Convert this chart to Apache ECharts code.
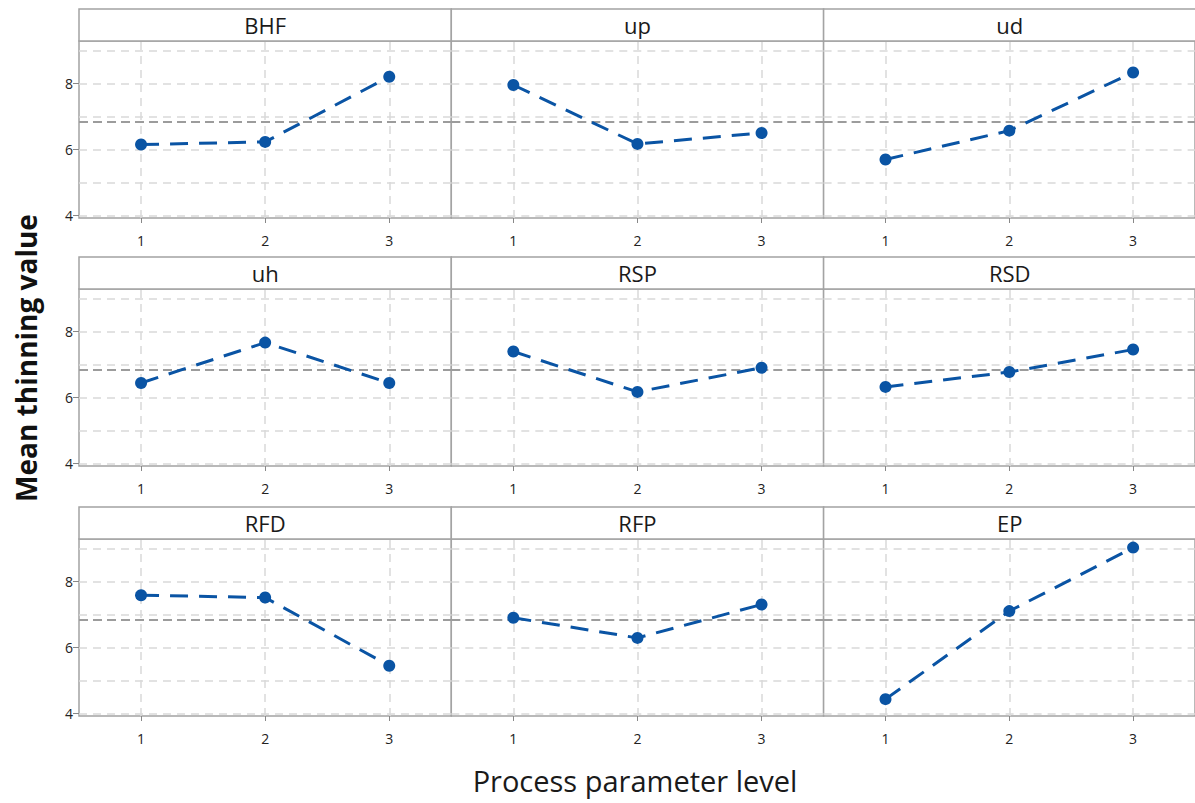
<!DOCTYPE html>
<html>
<head>
<meta charset="utf-8">
<script src="https://cdn.jsdelivr.net/npm/echarts@6/dist/echarts.min.js"></script>
<style>
html,body{margin:0;padding:0;background:#fff;}
#chart{width:1195px;height:803px;}
</style>
</head>
<body>
<div id="chart"></div>
<script>
// ---- data ----
const factors = ['BHF', 'up', 'ud', 'uh', 'RSP', 'RSD', 'RFD', 'RFP', 'EP'];
const levels = ['1', '2', '3'];
const BHF = [6.15, 6.23, 8.20];
const up  = [7.95, 6.17, 6.50];
const ud  = [5.70, 6.57, 8.33];
const uh  = [6.44, 7.66, 6.44];
const RSP = [7.39, 6.17, 6.90];
const RSD = [6.32, 6.77, 7.45];
const RFD = [7.58, 7.51, 5.45];
const RFP = [6.90, 6.29, 7.30];
const EP  = [4.44, 7.10, 9.02];
const yTickLabels = [4, 6, 8];
const yGridValues = [4, 5, 6, 7, 8, 9];
const yTitle = 'Mean thinning value';
const xTitle = 'Process parameter level';

const seriesValues = [BHF, up, ud, uh, RSP, RSD, RFD, RFP, EP];
const allVals = seriesValues.flat();
const grandMean = allVals.reduce((a, b) => a + b, 0) / allVals.length;

// ---- layout ----
const colLeft = 79, colW = 372.3;
const rowPlotTop = [41, 289, 539];
const plotH = 177, headerH = 32;
const yMin = 3.93, yMax = 9.28;
const borderColor = '#a3a3a3';
const gridColor = '#d9d9d9';
const lineColor = '#0a54a4';
const font = 'Open Sans';

const grids = [], xAxes = [], yAxes = [], series = [], graphics = [];

factors.forEach((name, i) => {
  const r = Math.floor(i / 3), c = i % 3;
  const left = colLeft + c * colW;
  const top = rowPlotTop[r];
  grids.push({
    left: left, top: top, width: colW, height: plotH,
    show: true, borderColor: borderColor, borderWidth: 1.5, backgroundColor: '#fff'
  });
  xAxes.push({
    type: 'category', gridIndex: i, data: levels, boundaryGap: true,
    axisLine: { show: false },
    axisTick: { show: true, alignWithLabel: true, length: 5, lineStyle: { color: '#888', width: 1 } },
    axisLabel: { margin: 15, fontSize: 14, color: '#222', fontFamily: font },
    splitLine: { show: false }
  });
  yAxes.push({
    type: 'value', gridIndex: i, min: yMin, max: yMax,
    axisLine: { show: false },
    axisTick: { show: c === 0, customValues: yTickLabels, length: 6, lineStyle: { color: '#888', width: 1 } },
    axisLabel: { show: c === 0, customValues: yTickLabels, margin: 6, fontSize: 14, color: '#222', fontFamily: font },
    splitLine: { show: false }
  });
  const mlData = [];
  levels.forEach(l => mlData.push({ xAxis: l, lineStyle: { color: gridColor, width: 1.5, type: [8, 6] } }));
  yGridValues.forEach(v => mlData.push({ yAxis: v, lineStyle: { color: gridColor, width: 1.5, type: [8, 6] } }));
  mlData.push({ yAxis: grandMean, lineStyle: { color: '#9c9c9c', width: 2.2, type: [9, 5] } });
  series.push({
    type: 'line', name: name, xAxisIndex: i, yAxisIndex: i,
    data: seriesValues[i],
    symbol: 'circle', symbolSize: 12,
    itemStyle: { color: lineColor },
    lineStyle: { color: lineColor, width: 3, type: [18, 11] },
    z: 3,
    markLine: {
      silent: true, symbol: 'none', z: 1, animation: false,
      label: { show: false },
      emphasis: { disabled: true },
      data: mlData
    }
  });
  // header strip
  graphics.push({
    type: 'rect', z: 10,
    shape: { x: left, y: top - headerH, width: colW, height: headerH },
    style: { fill: '#fff', stroke: borderColor, lineWidth: 1.5 }
  });
  graphics.push({
    type: 'text', z: 11,
    x: left + colW / 2, y: top - headerH / 2,
    style: { text: name, fontSize: 22, fontFamily: font, fill: '#1a1a1a', align: 'center', verticalAlign: 'middle' }
  });
});

graphics.push({
  type: 'text', z: 11,
  x: 26, y: 358, rotation: Math.PI / 2,
  style: { text: yTitle, fontSize: 28, fontWeight: 'bold', fontFamily: font, fill: '#111', align: 'center', verticalAlign: 'middle' }
});
graphics.push({
  type: 'text', z: 11,
  x: 635, y: 780,
  style: { text: xTitle, fontSize: 29, fontFamily: font, fill: '#1a1a1a', align: 'center', verticalAlign: 'middle' }
});

const chart = echarts.init(document.getElementById('chart'), null, { renderer: 'svg' });
chart.setOption({
  backgroundColor: '#fff',
  animation: false,
  grid: grids,
  xAxis: xAxes,
  yAxis: yAxes,
  series: series,
  graphic: graphics
});
</script>
</body>
</html>
